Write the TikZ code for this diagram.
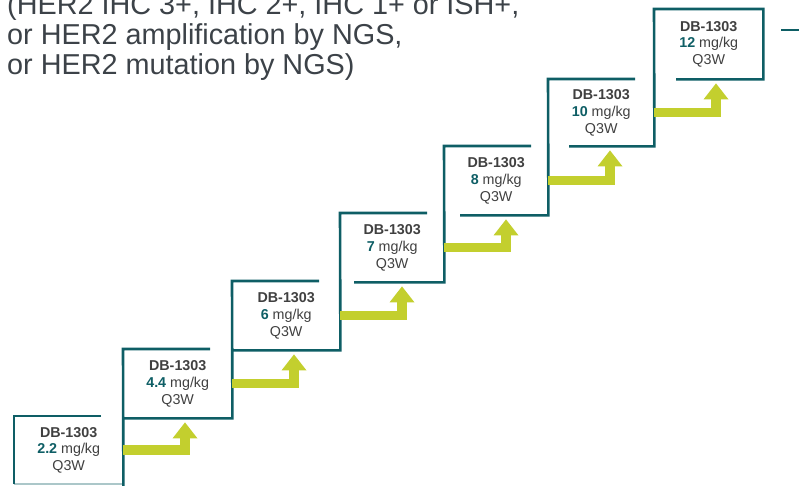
\documentclass[tikz,border=0pt]{standalone}
\usepackage{fontspec}
\setmainfont{Liberation Sans}
\usetikzlibrary{arrows.meta}
\definecolor{stepteal}{RGB}{14,94,101}
\definecolor{stepgreen}{RGB}{195,207,46}
\definecolor{stepgray}{RGB}{64,64,64}
\definecolor{titlegray}{RGB}{60,66,72}

\begin{document}
\begin{tikzpicture}[x=1pt,y=-1pt,line join=miter,
    stepbox/.style={inner sep=0pt,anchor=north west,align=center,text=stepgray,
      font=\fontsize{14.3}{16.8}\selectfont},
    stair/.style={draw=stepteal,line width=2.6pt},
    faint/.style={draw=stepteal!35,line width=2pt},
    rise/.style={draw=stepgreen,line width=9.5pt,
      -{Triangle[length=16pt,width=25pt,line width=0pt]}},
    title/.style={anchor=base west,align=left,inner sep=0pt,text=titlegray,
      font=\fontsize{28.8}{30}\selectfont}]
      \clip (0,0) rectangle (799,485);
      \node[title]   (crit) at (7,74) {(HER2 IHC 3+, IHC 2+, IHC 1+ or ISH+,\\or HER2 amplification by NGS,\\or HER2 mutation by NGS)};
      \node[stepbox,minimum width=109pt,minimum height=68pt] (s1) at (14,416)
        {\textbf{DB-1303}\\\textbf{\color{stepteal}2.2} mg/kg\\Q3W};
      \node[stepbox,minimum width=109pt,minimum height=69pt] (s2) at (123,349)
        {\textbf{DB-1303}\\\textbf{\color{stepteal}4.4} mg/kg\\Q3W};
      \node[stepbox,minimum width=108pt,minimum height=69pt] (s3) at (232,281)
        {\textbf{DB-1303}\\\textbf{\color{stepteal}6} mg/kg\\Q3W};
      \node[stepbox,minimum width=104pt,minimum height=69pt] (s4) at (340,213)
        {\textbf{DB-1303}\\\textbf{\color{stepteal}7} mg/kg\\Q3W};
      \node[stepbox,minimum width=104pt,minimum height=69pt] (s5) at (444,146)
        {\textbf{DB-1303}\\\textbf{\color{stepteal}8} mg/kg\\Q3W};
      \node[stepbox,minimum width=106pt,minimum height=67pt] (s6) at (548,79)
        {\textbf{DB-1303}\\\textbf{\color{stepteal}10} mg/kg\\Q3W};
      \node[stepbox,minimum width=109pt,minimum height=70pt] (s7) at (654,9)
        {\textbf{DB-1303}\\\textbf{\color{stepteal}12} mg/kg\\Q3W};
      \coordinate (tail) at (781,30);
      \coordinate (tail end) at (800,30);
      % the staircase
      \draw[faint] (s1.south west) -- (s1.south east);
      \draw[stair] ([xshift=87pt]s1.north west) -- (s1.north west) -- (s1.south west);
      \draw[stair] ([yshift=-2pt]s1.south east) -- (s2.north west) -- ([xshift=87pt]s2.north west);
      \draw[stair] (s2.south west) -- (s2.south east) -- (s3.north west) -- ([xshift=87pt]s3.north west);
      \draw[stair] (s3.south west) -- (s3.south east) -- (s4.north west) -- ([xshift=87pt]s4.north west);
      \draw[stair] ([xshift=14pt]s4.south west) -- (s4.south east) -- (s5.north west) -- ([xshift=87pt]s5.north west);
      \draw[stair] ([xshift=16pt]s5.south west) -- (s5.south east) -- (s6.north west) -- ([xshift=87pt]s6.north west);
      \draw[stair] ([xshift=21pt]s6.south west) -- (s6.south east) -- (s7.north west) -- (s7.north east)
        -- (s7.south east) -- ([xshift=22pt]s7.south west);
      \draw[stair] (tail) -- (tail end);
      % arrows up the steps
      \draw[rise] (s1.east) -| ([xshift=62pt,yshift=-4pt]s2.south west);
      \draw[rise] (s2.east) -| ([xshift=62pt,yshift=-4pt]s3.south west);
      \draw[rise] (s3.east) -| ([xshift=62pt,yshift=-4pt]s4.south west);
      \draw[rise] (s4.east) -| ([xshift=62pt,yshift=-4pt]s5.south west);
      \draw[rise] (s5.east) -| ([xshift=62pt,yshift=-4pt]s6.south west);
      \draw[rise] (s6.east) -| ([xshift=62pt,yshift=-4pt]s7.south west);
\end{tikzpicture}
\end{document}
